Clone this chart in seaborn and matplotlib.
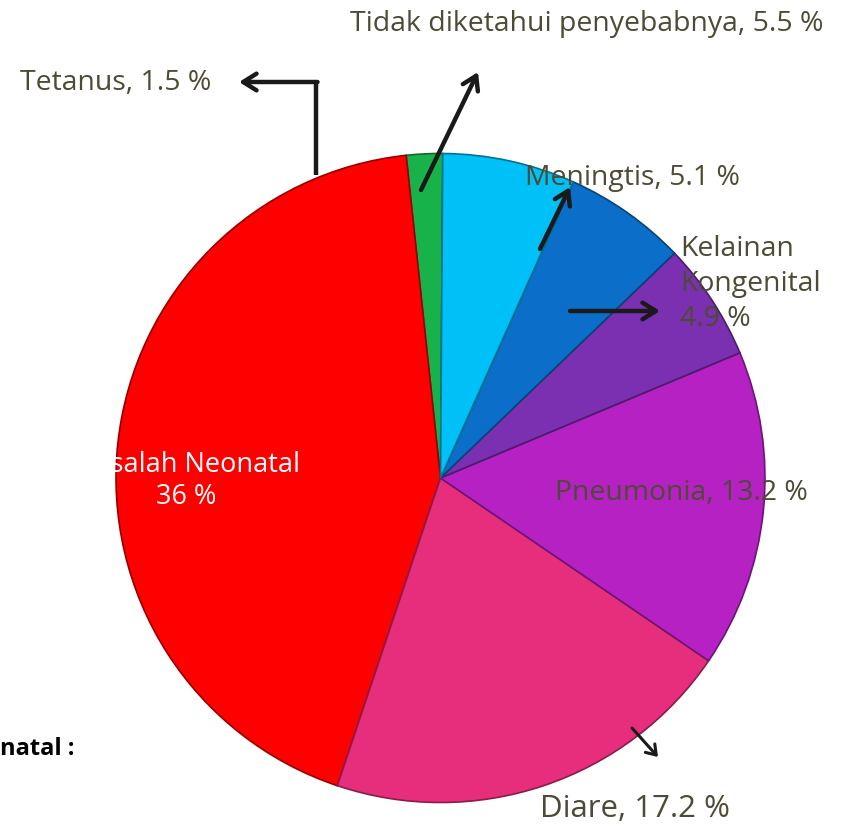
import matplotlib
matplotlib.use("Agg")
import matplotlib.pyplot as plt
import matplotlib.colors as mcolors
import seaborn as sns

# ---- data ----
categories = ["Tetanus", "Masalah Neonatal", "Diare", "Pneumonia",
              "Kelainan Kongenital", "Meningtis", "Tidak diketahui penyebabnya"]
values = [1.5, 36, 17.2, 13.2, 4.9, 5.1, 5.5]
colors = ["#18b24b", "#fe0000", "#e62e7c", "#b521c2", "#7a30b0", "#0b6fc9", "#00c0f8"]
labels = {
    "Tetanus": "Tetanus, 1.5 %",
    "Masalah Neonatal": "Masalah Neonatal\n36 %",
    "Diare": "Diare, 17.2 %",
    "Pneumonia": "Pneumonia, 13.2 %",
    "Kelainan Kongenital": "Kelainan\nKongenital\n4.9 %",
    "Meningtis": "Meningtis, 5.1 %",
    "Tidak diketahui penyebabnya": "Tidak diketahui penyebabnya, 5.5 %",
}
side_text = "natal :"

sns.set_theme(style="white")
plt.rcParams["font.family"] = ["Open Sans", "DejaVu Sans"]

W, H = 841, 827
fig = plt.figure(figsize=(W / 100, H / 100), dpi=100)
ax = fig.add_axes([0, 0, 1, 1])

cx, cy, r = 440.5, 478, 324.5
# pie drawn in a y-down axes: counterclock=False in data means counterclockwise on screen
wedges, _ = ax.pie(values, colors=colors, startangle=-89.6, counterclock=False,
                   center=(cx, cy), radius=r, frame=True,
                   wedgeprops=dict(linewidth=1.2))
for w, c in zip(wedges, colors):
    rgb = mcolors.to_rgb(c)
    w.set_edgecolor(tuple(v * 0.6 for v in rgb))
ax.set_xlim(0, W)
ax.set_ylim(H, 0)
ax.set_aspect("equal")
ax.axis("off")

tc = "#4d4a35"
fs = 20.4
ax.text(350, 24, labels["Tidak diketahui penyebabnya"], color=tc, fontsize=fs, va="center", ha="left")
ax.text(20, 83, labels["Tetanus"], color=tc, fontsize=fs, va="center", ha="left")
ax.text(525, 178, labels["Meningtis"], color=tc, fontsize=fs, va="center", ha="left")
ax.text(680, 284, labels["Kelainan Kongenital"], color=tc, fontsize=fs, va="center", ha="left",
        linespacing=1.33)
ax.text(555, 493, labels["Pneumonia"], color=tc, fontsize=fs, va="center", ha="left")
ax.text(540, 809, labels["Diare"], color=tc, fontsize=22.5, va="center", ha="left")
ax.text(186, 481, labels["Masalah Neonatal"], color="white", fontsize=19.5, va="center", ha="center",
        multialignment="center", linespacing=1.15)
ax.text(0, 749, side_text, color="black", fontsize=17, fontweight="bold", va="center", ha="left",
        family=["Liberation Sans Narrow", "Open Sans", "DejaVu Sans"])

arrow = dict(arrowstyle="->,head_length=0.8,head_width=0.5", color="#1a1a1a", lw=3.2,
             shrinkA=0, shrinkB=0)
ax.plot([316, 316], [175, 82], color="#1a1a1a", lw=3.2, solid_capstyle="butt")
ax.annotate("", xy=(239, 82), xytext=(317.5, 82), arrowprops=arrow)
ax.annotate("", xy=(478, 72), xytext=(421, 190), arrowprops=arrow)
ax.annotate("", xy=(570, 187), xytext=(540, 249), arrowprops=arrow)
ax.annotate("", xy=(660, 311), xytext=(570, 311), arrowprops=arrow)
thin = dict(arrow, lw=2.2, arrowstyle="->,head_length=0.55,head_width=0.38")
ax.annotate("", xy=(658, 757), xytext=(632, 728), arrowprops=thin)

fig.savefig("out.png", dpi=100, facecolor="white")
